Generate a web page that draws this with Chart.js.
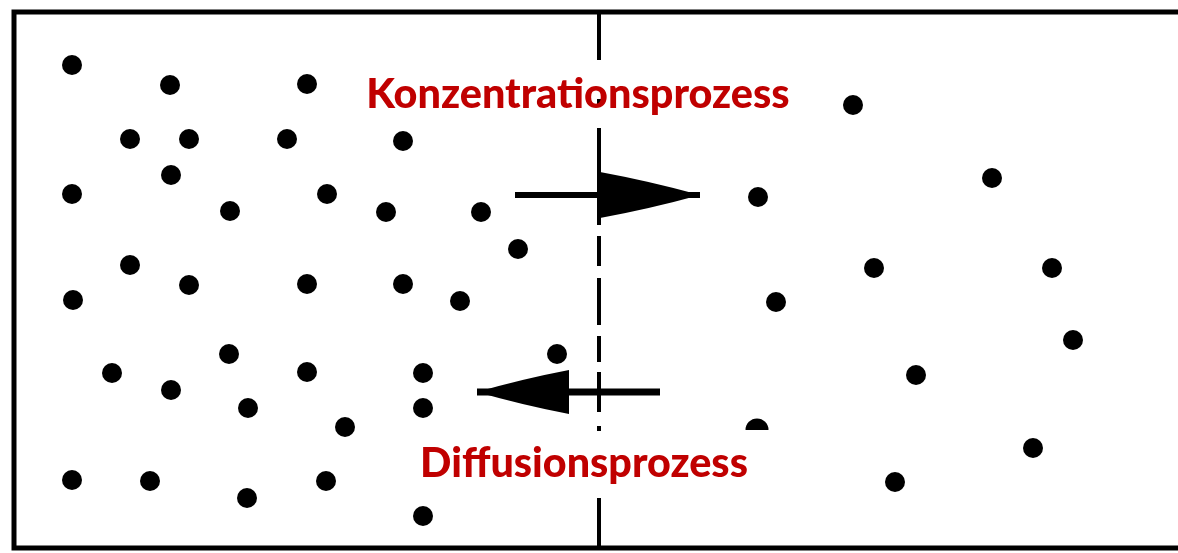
<!DOCTYPE html>
<html>
<head>
<meta charset="utf-8">
<script src="https://cdn.jsdelivr.net/npm/chart.js@4"></script>
<style>
  html, body { margin: 0; padding: 0; background: #fff; }
  canvas { display: block; }
</style>
</head>
<body>
<canvas id="diagramm" width="1178" height="553"></canvas>
<script>
const diagramm = document.getElementById("diagramm");

// Teilchen auf der linken Seite (hohe Konzentration)
const teilchenLinks = [
  { x: 72, y: 65 }, { x: 170, y: 85 }, { x: 307, y: 84 },
  { x: 130, y: 139 }, { x: 189, y: 139 }, { x: 287, y: 139 }, { x: 403, y: 141 },
  { x: 171, y: 175 }, { x: 72, y: 194 }, { x: 327, y: 194 },
  { x: 230, y: 211 }, { x: 386, y: 212 }, { x: 481, y: 212 }, { x: 518, y: 249 },
  { x: 130, y: 265 }, { x: 189, y: 285 }, { x: 307, y: 284 }, { x: 403, y: 284 },
  { x: 73, y: 300 }, { x: 460, y: 301 },
  { x: 229, y: 354 }, { x: 557, y: 354 }, { x: 112, y: 373 }, { x: 307, y: 372 },
  { x: 423, y: 373 }, { x: 171, y: 390 }, { x: 248, y: 408 }, { x: 423, y: 408 },
  { x: 345, y: 427 }, { x: 72, y: 480 }, { x: 150, y: 481 }, { x: 326, y: 481 },
  { x: 247, y: 498 }, { x: 423, y: 516 },
];

// Teilchen auf der rechten Seite (niedrige Konzentration)
const teilchenRechts = [
  { x: 853, y: 105 }, { x: 992, y: 178 }, { x: 758, y: 197 },
  { x: 874, y: 268 }, { x: 1052, y: 268 }, { x: 776, y: 302 },
  { x: 1073, y: 340 }, { x: 916, y: 375 }, { x: 1033, y: 448 }, { x: 895, y: 482 },
];
const teilchenHalb = [{ x: 757, y: 430 }];

// Trennwand (gestrichelt), Abschnitte von-bis
const trennwandX = 599;
const trennwandStriche = [
  [12, 60], [99, 104], [128, 225], [236, 266], [278, 325],
  [336, 362], [372, 412], [426, 431], [498, 548],
];

const pfeilKonzentration = [{ x: 515, y: 195 }, { x: 700, y: 195 }];
const pfeilDiffusion = [{ x: 660, y: 392 }, { x: 477, y: 392 }];

const beschriftungen = ["Konzentrationsprozess", "Diffusionsprozess"];
const beschriftungX = [578, 584];
const beschriftungY = [108, 477];
const beschriftungBreite = [423, 328];

const trennwand = [];
trennwandStriche.forEach((s) => {
  trennwand.push({ x: trennwandX, y: s[0] });
  trennwand.push({ x: trennwandX, y: s[1] });
  trennwand.push({ x: trennwandX, y: null });
});

// halber Punkt (unten abgeschnitten)
const halbPunkt = document.createElement("canvas");
halbPunkt.width = 24;
halbPunkt.height = 24;
const hp = halbPunkt.getContext("2d");
hp.fillStyle = "#000";
hp.beginPath();
hp.arc(12, 12, 11.5, Math.PI, 2 * Math.PI);
hp.closePath();
hp.fill();

const rahmenPlugin = {
  id: "rahmen",
  beforeDatasetsDraw(chart) {
    const { ctx, scales } = chart;
    const l = scales.x.getPixelForValue(14);
    const o = scales.y.getPixelForValue(12);
    const u = scales.y.getPixelForValue(548);
    const ende = scales.x.getPixelForValue(1178);
    ctx.save();
    ctx.strokeStyle = "#000";
    ctx.lineWidth = 5;
    ctx.beginPath();
    ctx.moveTo(ende, o);
    ctx.lineTo(l, o);
    ctx.lineTo(l, u);
    ctx.lineTo(ende, u);
    ctx.stroke();
    ctx.restore();
  },
  afterDatasetsDraw(chart) {
    const { ctx, scales } = chart;
    ctx.save();
    // Pfeilspitzen
    chart.data.datasets.forEach((ds, i) => {
      if (!ds.pfeil) return;
      const pts = chart.getDatasetMeta(i).data;
      const a = pts[0], b = pts[pts.length - 1];
      const ang = Math.atan2(b.y - a.y, b.x - a.x);
      const len = ds.pfeil.laenge, w = ds.pfeil.breite;
      const c = Math.cos(ang), s = Math.sin(ang);
      const bx = b.x - len * c, by = b.y - len * s;
      ctx.fillStyle = "#000";
      ctx.beginPath();
      ctx.moveTo(b.x, b.y);
      ctx.quadraticCurveTo(b.x - len * 0.5 * c - w * 0.6 * s, b.y - len * 0.5 * s + w * 0.6 * c, bx - w * s, by + w * c);
      ctx.lineTo(bx + w * s, by - w * c);
      ctx.quadraticCurveTo(b.x - len * 0.5 * c + w * 0.6 * s, b.y - len * 0.5 * s - w * 0.6 * c, b.x, b.y);
      ctx.closePath();
      ctx.fill();
    });
    // Beschriftungen
    ctx.fillStyle = "#c00000";
    ctx.textAlign = "center";
    ctx.textBaseline = "alphabetic";
    beschriftungen.forEach((t, i) => {
      ctx.font = "900 36px Lato";
      const m = ctx.measureText(t).width;
      const size = 36 * beschriftungBreite[i] / m;
      ctx.font = "900 " + size.toFixed(1) + "px Lato";
      ctx.fillText(t, scales.x.getPixelForValue(beschriftungX[i]), scales.y.getPixelForValue(beschriftungY[i]));
    });
    ctx.restore();
  },
};

new Chart(diagramm, {
  type: "scatter",
  data: {
    datasets: [
      {
        type: "line",
        data: trennwand,
        borderColor: "#000",
        borderWidth: 4,
        pointRadius: 0,
        spanGaps: false,
      },
      {
        type: "line",
        data: pfeilKonzentration,
        borderColor: "#000",
        borderWidth: 6,
        pointRadius: 0,
        pfeil: { laenge: 100, breite: 23 },
      },
      {
        type: "line",
        data: pfeilDiffusion,
        borderColor: "#000",
        borderWidth: 7,
        pointRadius: 0,
        pfeil: { laenge: 92, breite: 22 },
      },
      {
        data: teilchenLinks,
        backgroundColor: "#000",
        borderWidth: 0,
        pointRadius: 10,
      },
      {
        data: teilchenRechts,
        backgroundColor: "#000",
        borderWidth: 0,
        pointRadius: 10,
      },
      {
        data: teilchenHalb,
        pointStyle: halbPunkt,
      },
    ],
  },
  options: {
    responsive: false,
    animation: false,
    layout: { padding: 0, autoPadding: false },
    scales: {
      x: { type: "linear", min: 0, max: 1178, display: false },
      y: { type: "linear", min: 0, max: 553, reverse: true, display: false },
    },
    plugins: {
      legend: { display: false },
      tooltip: { enabled: false },
    },
  },
  plugins: [rahmenPlugin],
});
</script>
</body>
</html>
